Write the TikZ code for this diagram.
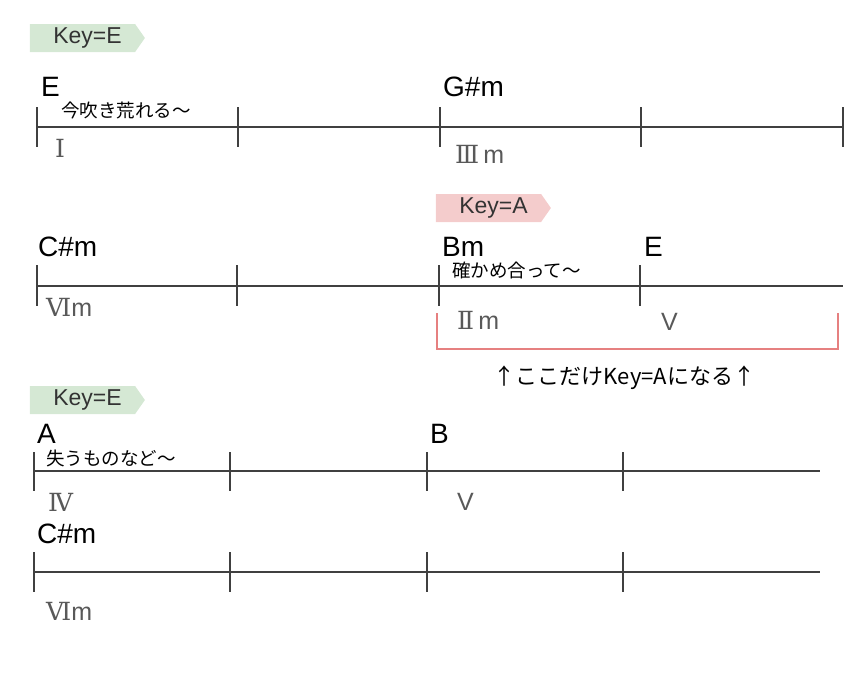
\documentclass[tikz,border=0pt]{standalone}
\usepackage{fontspec}
\setmainfont{Liberation Sans}
\newfontfamily\jpfont{Noto Sans CJK JP}
\newfontfamily\romfont{DejaVu Serif}
\usepackage{tikz}
\usetikzlibrary{shapes.symbols,positioning}
\definecolor{keygreen}{RGB}{213, 232, 212}
\definecolor{keypink}{RGB}{244, 204, 204}
\definecolor{bargray}{RGB}{64, 64, 64}
\definecolor{numgray}{RGB}{89, 89, 89}
\definecolor{bracketred}{RGB}{230, 128, 128}
\tikzstyle{keytag} = [signal, signal to=east, signal pointer angle=110, minimum width=115pt, minimum height=28pt, inner sep=0pt, text=black!80, font=\fontsize{23}{23}\selectfont]
\tikzstyle{chord} = [anchor=base west, inner sep=0pt, text=black, font=\fontsize{28}{28}\selectfont]
\tikzstyle{lyric} = [anchor=west, inner sep=0pt, text=black, font=\jpfont\fontsize{18.5}{18.5}\selectfont]
\tikzstyle{degree} = [anchor=west, inner sep=0pt, text=numgray, font=\fontsize{25}{25}\selectfont]
\tikzstyle{note} = [inner sep=0pt, text=black, font=\jpfont\fontsize{22}{22}\selectfont]
\tikzstyle{bar} = [draw=bargray, line width=1.3pt]
\tikzstyle{bracket} = [draw=bracketred, line width=1.5pt]

\begin{document}
\begin{tikzpicture}[x=1pt, y=-1pt]
\useasboundingbox (0,0) rectangle (864,675);

% keys =============================
\node[keytag, fill=keygreen] (key1) at (82.5,38) {\hskip10pt Key=E};
\node[keytag, fill=keypink] (key2) at (488.5,208) {\hskip10pt Key=A};
\node[keytag, fill=keygreen] (key3) at (82.5,400) {\hskip10pt Key=E};

% bars =============================
% row 1
\draw[bar] (37,127) -- (843,127);
\foreach \x in {37,238,440,641,843}
  \draw[bar] (\x,107) -- (\x,147);
% row 2
\draw[bar] (37,286) -- (843,286);
\foreach \x in {37,237,439,640}
  \draw[bar] (\x,265) -- (\x,306);
% row 3
\draw[bar] (34,471) -- (820,471);
\foreach \x in {34,230,427,623}
  \draw[bar] (\x,452) -- (\x,491);
% row 4
\draw[bar] (34,572) -- (820,572);
\foreach \x in {34,230,427,623}
  \draw[bar] (\x,552) -- (\x,592);

% chords =============================
\node[chord] (e1) at (41,96) {E};
\node[chord] (gsm) at (443,96) {G\#m};
\node[chord] (csm1) at (38,256) {C\#m};
\node[chord] (bm) at (442,256) {Bm};
\node[chord] (e2) at (644,256) {E};
\node[chord] (a) at (37,443) {A};
\node[chord] (b) at (430,443) {B};
\node[chord] (csm2) at (37,543) {C\#m};

% lyrics
\node[lyric] (lyr1) at (61,110) {今吹き荒れる～};
\node[lyric] (lyr2) at (452,270) {確かめ合って～};
\node[lyric] (lyr3) at (46,458) {失うものなど～};

% degrees
\node[degree] (d1) at (55,148) {{\romfont Ⅰ}};
\node[degree] (d2) at (455,154) {{\romfont Ⅲ}\,m};
\node[degree] (d3) at (46,307) {{\romfont Ⅵ}m};
\node[degree] (d4) at (457,320) {{\romfont Ⅱ}\,m};
\node[degree] (d5) at (661,322) {V};
\node[degree] (d6) at (48,502) {{\romfont Ⅳ}};
\node[degree] (d7) at (457,502) {V};
\node[degree] (d8) at (46,611) {{\romfont Ⅵ}m};

% bracket
\coordinate (brl) at (437,313);
\coordinate (brr) at (838,313);
\coordinate (brm) at (637.5,349);
\path[bracket] (brl) -- (brl |- brm) -- (brr |- brm) -- (brr);
\node[note, below=17pt of brm, xshift=-13pt] (note) {↑ここだけKey=Aになる↑};

\end{tikzpicture}
\end{document}
